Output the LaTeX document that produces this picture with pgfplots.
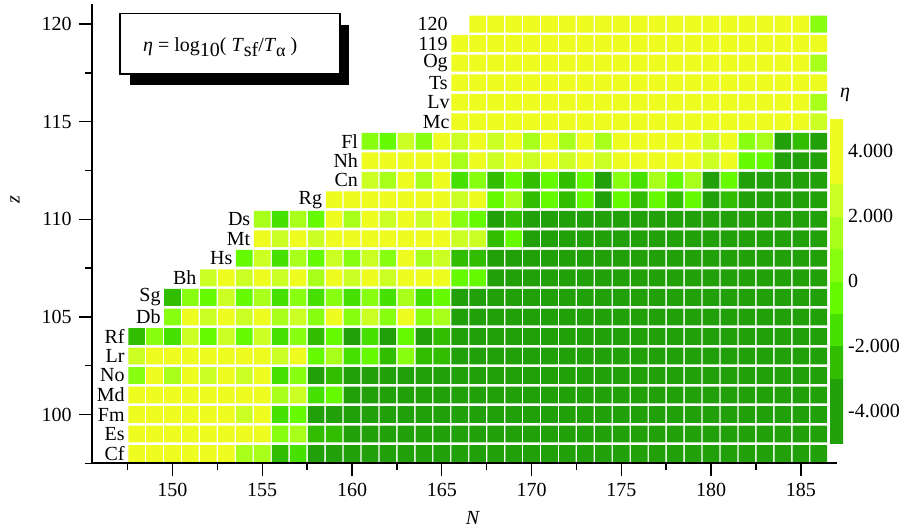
\documentclass[border=0pt]{standalone}
\usepackage{fontspec}
\setmainfont{Liberation Serif}
\usepackage{pgfplots}
\pgfplotsset{compat=1.18}
\pgfdeclareplotmark{cell}{%
  \pgfsetcornersarced{\pgfpoint{0.9pt}{0.9pt}}%
  \pgfpathmoveto{\pgfpoint{0pt}{-4.2pt}}%
  \pgfpathlineto{\pgfpoint{4.15pt}{-4.2pt}}%
  \pgfpathlineto{\pgfpoint{4.15pt}{4.2pt}}%
  \pgfpathlineto{\pgfpoint{-4.15pt}{4.2pt}}%
  \pgfpathlineto{\pgfpoint{-4.15pt}{-4.2pt}}%
  \pgfpathclose
  \pgfusepathqfill}
\begin{document}
\begin{tikzpicture}
\useasboundingbox (-45.85pt,-33.85pt) rectangle (407.15pt,231.65pt);
\begin{axis}[
  scale only axis, width=372.5pt, height=229.65pt,
  xmin=145.5, xmax=187, ymin=97.5, ymax=121.03,
  axis x line*=bottom, axis y line*=left,
  axis line style={-, line width=1pt},
  xtick={150,155,...,185}, minor xtick={147.5,152.5,...,182.5},
  ytick={100,105,...,120}, minor ytick={97.5,102.5,...,117.5},
  tick align=outside, major tick length=6.5pt, minor tick length=3.5pt,
  tick style={black, line width=0.7pt},
  /pgf/number format/assume math mode=true,
  clip=false,
  colormap={eta}{rgb255(0pt)=(34,160,10) rgb255(19.95pt)=(34,160,10)
    rgb255(20pt)=(50,190,0) rgb255(29.95pt)=(50,190,0)
    rgb255(30pt)=(70,225,0) rgb255(39.95pt)=(70,225,0)
    rgb255(40pt)=(102,250,0) rgb255(49.95pt)=(102,250,0)
    rgb255(50pt)=(136,255,17) rgb255(59.95pt)=(136,255,17)
    rgb255(60pt)=(168,255,26) rgb255(69.95pt)=(168,255,26)
    rgb255(70pt)=(204,255,34) rgb255(79.95pt)=(204,255,34)
    rgb255(80pt)=(238,252,32) rgb255(100pt)=(238,252,32)},
  point meta min=-5, point meta max=5,
  colorbar,
  colorbar style={scale only axis, width=6.5pt, height=162pt,
    at={(parent axis.north east)}, anchor=north west,
    xshift=-11.85pt, yshift=-57.5pt,
    ytick={-4,-2,0,2,4}, yticklabels={-4.000,-2.000,0,2.000,4.000},
    major tick length=0pt, axis line style={draw=none},
    tick style={draw=none}, yticklabel style={xshift=-1pt}},
  xlabel={\textit{N}},
  xlabel style={at={(axis description cs:0.5118,-0.118)}, anchor=center},
  ylabel={\textit{z}},
  ylabel style={at={(axis description cs:-0.1029,0.5737)}, anchor=center},
]
\addplot[scatter, only marks, mark=cell, point meta=explicit,
  scatter/use mapped color={draw=none, fill=mapped color}]
  table[row sep=\\, x=N, y=Z, meta=eta] {
N Z eta\\
148 98 4\\149 98 4\\150 98 4\\151 98 4\\152 98 4\\153 98 4\\154 98 1.5\\155 98 1.5\\156 98 -2.5\\157 98 -1.5\\158 98 -4\\159 98 -4\\160 98 -4\\161 98 -4\\162 98 -4\\163 98 -4\\164 98 -4\\165 98 -4\\166 98 -4\\167 98 -4\\168 98 -4\\169 98 -4\\170 98 -4\\171 98 -4\\172 98 -4\\173 98 -4\\174 98 -4\\175 98 -4\\176 98 -4\\177 98 -4\\178 98 -4\\179 98 -4\\180 98 -4\\181 98 -4\\182 98 -4\\183 98 -4\\184 98 -4\\185 98 -4\\186 98 -4\\
148 99 4\\149 99 4\\150 99 4\\151 99 4\\152 99 4\\153 99 4\\154 99 4\\155 99 4\\156 99 0.5\\157 99 1.5\\158 99 -2.5\\159 99 -2.5\\160 99 -4\\161 99 -4\\162 99 -4\\163 99 -4\\164 99 -4\\165 99 -4\\166 99 -4\\167 99 -4\\168 99 -4\\169 99 -4\\170 99 -4\\171 99 -4\\172 99 -4\\173 99 -4\\174 99 -4\\175 99 -4\\176 99 -4\\177 99 -4\\178 99 -4\\179 99 -4\\180 99 -4\\181 99 -4\\182 99 -4\\183 99 -4\\184 99 -4\\185 99 -4\\186 99 -4\\
148 100 4\\149 100 4\\150 100 4\\151 100 4\\152 100 4\\153 100 4\\154 100 2.5\\155 100 4\\156 100 -1.5\\157 100 -0.5\\158 100 -4\\159 100 -4\\160 100 -4\\161 100 -4\\162 100 -4\\163 100 -4\\164 100 -4\\165 100 -4\\166 100 -4\\167 100 -4\\168 100 -4\\169 100 -4\\170 100 -4\\171 100 -4\\172 100 -4\\173 100 -4\\174 100 -4\\175 100 -4\\176 100 -4\\177 100 -4\\178 100 -4\\179 100 -4\\180 100 -4\\181 100 -4\\182 100 -4\\183 100 -4\\184 100 -4\\185 100 -4\\186 100 -4\\
148 101 4\\149 101 4\\150 101 4\\151 101 4\\152 101 4\\153 101 4\\154 101 4\\155 101 4\\156 101 1.5\\157 101 2.5\\158 101 -1.5\\159 101 -0.5\\160 101 -4\\161 101 -4\\162 101 -4\\163 101 -4\\164 101 -4\\165 101 -4\\166 101 -4\\167 101 -4\\168 101 -4\\169 101 -4\\170 101 -4\\171 101 -4\\172 101 -4\\173 101 -4\\174 101 -4\\175 101 -4\\176 101 -4\\177 101 -4\\178 101 -4\\179 101 -4\\180 101 -4\\181 101 -4\\182 101 -4\\183 101 -4\\184 101 -4\\185 101 -4\\186 101 -4\\
148 102 0.5\\149 102 4\\150 102 1.5\\151 102 4\\152 102 2.5\\153 102 4\\154 102 2.5\\155 102 4\\156 102 -1.5\\157 102 0.5\\158 102 -4\\159 102 -2.5\\160 102 -4\\161 102 -4\\162 102 -4\\163 102 -4\\164 102 -4\\165 102 -4\\166 102 -4\\167 102 -4\\168 102 -4\\169 102 -4\\170 102 -4\\171 102 -4\\172 102 -4\\173 102 -4\\174 102 -4\\175 102 -4\\176 102 -4\\177 102 -4\\178 102 -4\\179 102 -4\\180 102 -4\\181 102 -4\\182 102 -4\\183 102 -4\\184 102 -4\\185 102 -4\\186 102 -4\\
148 103 2.5\\149 103 4\\150 103 4\\151 103 4\\152 103 4\\153 103 4\\154 103 4\\155 103 4\\156 103 2.5\\157 103 4\\158 103 -0.5\\159 103 1.5\\160 103 -1.5\\161 103 -0.5\\162 103 -2.5\\163 103 0.5\\164 103 -2.5\\165 103 -2.5\\166 103 -4\\167 103 -4\\168 103 -4\\169 103 -4\\170 103 -4\\171 103 -4\\172 103 -4\\173 103 -4\\174 103 -4\\175 103 -4\\176 103 -4\\177 103 -4\\178 103 -4\\179 103 -4\\180 103 -4\\181 103 -4\\182 103 -4\\183 103 -4\\184 103 -4\\185 103 -4\\186 103 -4\\
148 104 -2.5\\149 104 0.5\\150 104 -1.5\\151 104 2.5\\152 104 -0.5\\153 104 2.5\\154 104 -0.5\\155 104 2.5\\156 104 -1.5\\157 104 0.5\\158 104 -2.5\\159 104 -0.5\\160 104 -4\\161 104 -1.5\\162 104 -4\\163 104 -0.5\\164 104 -4\\165 104 -2.5\\166 104 -4\\167 104 -4\\168 104 -4\\169 104 -4\\170 104 -4\\171 104 -4\\172 104 -4\\173 104 -4\\174 104 -4\\175 104 -4\\176 104 -4\\177 104 -4\\178 104 -4\\179 104 -4\\180 104 -4\\181 104 -4\\182 104 -4\\183 104 -4\\184 104 -4\\185 104 -4\\186 104 -4\\
150 105 0.5\\151 105 4\\152 105 2.5\\153 105 4\\154 105 2.5\\155 105 4\\156 105 1.5\\157 105 2.5\\158 105 0.5\\159 105 4\\160 105 0.5\\161 105 2.5\\162 105 0.5\\163 105 4\\164 105 0.5\\165 105 1.5\\166 105 -4\\167 105 -4\\168 105 -4\\169 105 -4\\170 105 -4\\171 105 -4\\172 105 -4\\173 105 -4\\174 105 -4\\175 105 -4\\176 105 -4\\177 105 -4\\178 105 -4\\179 105 -4\\180 105 -4\\181 105 -4\\182 105 -4\\183 105 -4\\184 105 -4\\185 105 -4\\186 105 -4\\
150 106 -2.5\\151 106 0.5\\152 106 -0.5\\153 106 2.5\\154 106 -0.5\\155 106 1.5\\156 106 -1.5\\157 106 0.5\\158 106 -1.5\\159 106 0.5\\160 106 -1.5\\161 106 0.5\\162 106 -1.5\\163 106 1.5\\164 106 -1.5\\165 106 -0.5\\166 106 -4\\167 106 -4\\168 106 -4\\169 106 -4\\170 106 -4\\171 106 -4\\172 106 -4\\173 106 -4\\174 106 -4\\175 106 -4\\176 106 -4\\177 106 -4\\178 106 -4\\179 106 -4\\180 106 -4\\181 106 -4\\182 106 -4\\183 106 -4\\184 106 -4\\185 106 -4\\186 106 -4\\
152 107 2.5\\153 107 4\\154 107 2.5\\155 107 4\\156 107 2.5\\157 107 4\\158 107 1.5\\159 107 4\\160 107 2.5\\161 107 4\\162 107 2.5\\163 107 4\\164 107 4\\165 107 4\\166 107 -0.5\\167 107 -0.5\\168 107 -4\\169 107 -4\\170 107 -4\\171 107 -4\\172 107 -4\\173 107 -4\\174 107 -4\\175 107 -4\\176 107 -4\\177 107 -4\\178 107 -4\\179 107 -4\\180 107 -4\\181 107 -4\\182 107 -4\\183 107 -4\\184 107 -4\\185 107 -4\\186 107 -4\\
154 108 -0.5\\155 108 2.5\\156 108 -1.5\\157 108 1.5\\158 108 -0.5\\159 108 2.5\\160 108 0.5\\161 108 2.5\\162 108 0.5\\163 108 4\\164 108 1.5\\165 108 2.5\\166 108 -2.5\\167 108 -2.5\\168 108 -4\\169 108 -4\\170 108 -4\\171 108 -4\\172 108 -4\\173 108 -4\\174 108 -4\\175 108 -4\\176 108 -4\\177 108 -4\\178 108 -4\\179 108 -4\\180 108 -4\\181 108 -4\\182 108 -4\\183 108 -4\\184 108 -4\\185 108 -4\\186 108 -4\\
155 109 4\\156 109 2.5\\157 109 4\\158 109 2.5\\159 109 4\\160 109 4\\161 109 4\\162 109 4\\163 109 4\\164 109 4\\165 109 4\\166 109 2.5\\167 109 2.5\\168 109 -2.5\\169 109 -0.5\\170 109 -4\\171 109 -4\\172 109 -4\\173 109 -4\\174 109 -4\\175 109 -4\\176 109 -4\\177 109 -4\\178 109 -4\\179 109 -4\\180 109 -4\\181 109 -4\\182 109 -4\\183 109 -4\\184 109 -4\\185 109 -4\\186 109 -4\\
155 110 1.5\\156 110 -1.5\\157 110 1.5\\158 110 -0.5\\159 110 4\\160 110 1.5\\161 110 4\\162 110 2.5\\163 110 4\\164 110 2.5\\165 110 4\\166 110 0.5\\167 110 -0.5\\168 110 -4\\169 110 -2.5\\170 110 -4\\171 110 -4\\172 110 -4\\173 110 -4\\174 110 -4\\175 110 -4\\176 110 -4\\177 110 -4\\178 110 -4\\179 110 -4\\180 110 -4\\181 110 -4\\182 110 -4\\183 110 -4\\184 110 -4\\185 110 -4\\186 110 -4\\
159 111 4\\160 111 4\\161 111 4\\162 111 4\\163 111 4\\164 111 4\\165 111 4\\166 111 2.5\\167 111 4\\168 111 -0.5\\169 111 1.5\\170 111 -2.5\\171 111 -0.5\\172 111 -2.5\\173 111 -0.5\\174 111 -4\\175 111 -0.5\\176 111 -2.5\\177 111 -0.5\\178 111 -2.5\\179 111 -0.5\\180 111 -4\\181 111 -2.5\\182 111 -4\\183 111 -4\\184 111 -4\\185 111 -4\\186 111 -4\\
161 112 2.5\\162 112 1.5\\163 112 4\\164 112 1.5\\165 112 4\\166 112 -1.5\\167 112 0.5\\168 112 -2.5\\169 112 -0.5\\170 112 -2.5\\171 112 -0.5\\172 112 -2.5\\173 112 -0.5\\174 112 -4\\175 112 0.5\\176 112 -1.5\\177 112 1.5\\178 112 -0.5\\179 112 1.5\\180 112 -4\\181 112 -0.5\\182 112 -4\\183 112 -4\\184 112 -4\\185 112 -4\\186 112 -4\\
161 113 4\\162 113 4\\163 113 4\\164 113 4\\165 113 4\\166 113 1.5\\167 113 4\\168 113 2.5\\169 113 4\\170 113 2.5\\171 113 4\\172 113 2.5\\173 113 4\\174 113 2.5\\175 113 4\\176 113 4\\177 113 4\\178 113 4\\179 113 4\\180 113 2.5\\181 113 4\\182 113 -0.5\\183 113 -0.5\\184 113 -4\\185 113 -4\\186 113 -4\\
161 114 0.5\\162 114 -0.5\\163 114 2.5\\164 114 0.5\\165 114 4\\166 114 2.5\\167 114 4\\168 114 2.5\\169 114 4\\170 114 1.5\\171 114 4\\172 114 1.5\\173 114 4\\174 114 1.5\\175 114 4\\176 114 4\\177 114 4\\178 114 4\\179 114 4\\180 114 2.5\\181 114 4\\182 114 0.5\\183 114 1.5\\184 114 -4\\185 114 -2.5\\186 114 -4\\
166 115 4\\167 115 4\\168 115 4\\169 115 4\\170 115 4\\171 115 4\\172 115 4\\173 115 4\\174 115 4\\175 115 4\\176 115 4\\177 115 4\\178 115 4\\179 115 4\\180 115 4\\181 115 4\\182 115 4\\183 115 4\\184 115 4\\185 115 4\\186 115 2.5\\
166 116 4\\167 116 4\\168 116 4\\169 116 4\\170 116 4\\171 116 4\\172 116 4\\173 116 4\\174 116 4\\175 116 4\\176 116 4\\177 116 4\\178 116 4\\179 116 4\\180 116 4\\181 116 4\\182 116 4\\183 116 4\\184 116 4\\185 116 4\\186 116 1.5\\
166 117 4\\167 117 4\\168 117 4\\169 117 4\\170 117 4\\171 117 4\\172 117 4\\173 117 4\\174 117 4\\175 117 4\\176 117 4\\177 117 4\\178 117 4\\179 117 4\\180 117 4\\181 117 4\\182 117 4\\183 117 4\\184 117 4\\185 117 4\\186 117 4\\
166 118 4\\167 118 4\\168 118 4\\169 118 4\\170 118 4\\171 118 4\\172 118 4\\173 118 4\\174 118 4\\175 118 4\\176 118 4\\177 118 4\\178 118 4\\179 118 4\\180 118 4\\181 118 4\\182 118 4\\183 118 4\\184 118 4\\185 118 4\\186 118 1.5\\
166 119 4\\167 119 4\\168 119 4\\169 119 4\\170 119 4\\171 119 4\\172 119 4\\173 119 4\\174 119 4\\175 119 4\\176 119 4\\177 119 4\\178 119 4\\179 119 4\\180 119 4\\181 119 4\\182 119 4\\183 119 4\\184 119 4\\185 119 4\\186 119 4\\
167 120 4\\168 120 4\\169 120 4\\170 120 4\\171 120 4\\172 120 4\\173 120 4\\174 120 4\\175 120 4\\176 120 4\\177 120 4\\178 120 4\\179 120 4\\180 120 4\\181 120 4\\182 120 4\\183 120 4\\184 120 4\\185 120 4\\186 120 0.5\\
};
\begin{scope}[every node/.style={anchor=east, inner sep=0pt, xshift=-1.3pt}]
\node at (axis cs:147.5,98) {Cf};
\node at (axis cs:147.5,99) {Es};
\node at (axis cs:147.5,100) {Fm};
\node at (axis cs:147.5,101) {Md};
\node at (axis cs:147.5,102) {No};
\node at (axis cs:147.5,103) {Lr};
\node at (axis cs:147.5,104) {Rf};
\node at (axis cs:149.5,105) {Db};
\node at (axis cs:149.5,106) {Sg};
\node at (axis cs:151.5,107) {Bh};
\node at (axis cs:153.5,108) {Hs};
\node at (axis cs:154.5,109) {Mt};
\node at (axis cs:154.5,110) {Ds};
\node at (axis cs:158.5,111) {Rg};
\node at (axis cs:160.5,112) {Cn};
\node at (axis cs:160.5,113) {Nh};
\node at (axis cs:160.5,114) {Fl};
\node at (axis cs:165.6,115) {Mc};
\node at (axis cs:165.6,116) {Lv};
\node at (axis cs:165.5,117) {Ts};
\node at (axis cs:165.5,118) {Og};
\node at (axis cs:165.5,119) {119};
\node at (axis cs:165.5,120) {120};
\end{scope}
\end{axis}
\node at (376.65pt,184.15pt) {\textit{η}};
\fill[black] (19.15pt,189.15pt) rectangle (128.65pt,219.15pt);
\filldraw[fill=white, draw=black, line width=0.6pt] (14.15pt,194.65pt) rectangle (124.15pt,224.8pt);
\node at (64.25pt,208pt) {\textit{η} = log\raisebox{-0.6ex}{10}( \textit{T}\raisebox{-0.6ex}{sf}/\textit{T}\raisebox{-0.6ex}{\small α} )};
\end{tikzpicture}
\end{document}
